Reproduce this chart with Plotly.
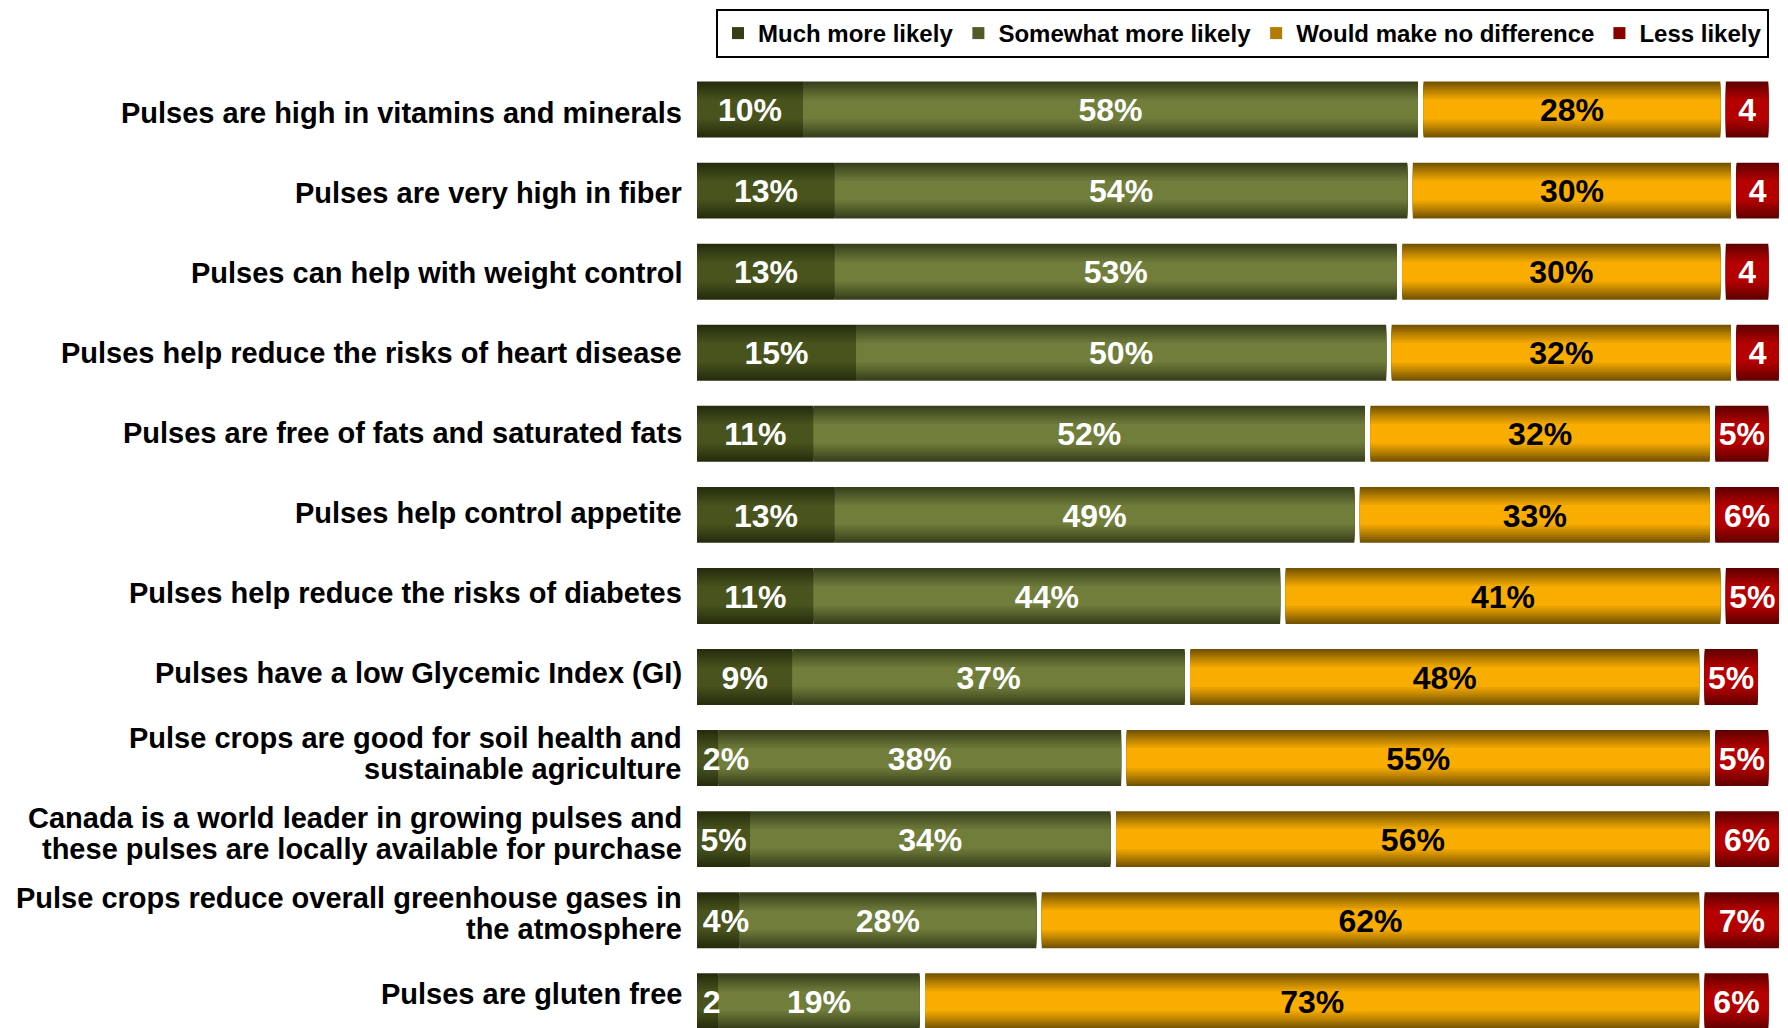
import numpy as np
import plotly.graph_objects as go

# ---------------- data ----------------
categories = [
    "Pulses are high in vitamins and minerals",
    "Pulses are very high in fiber",
    "Pulses can help with weight control",
    "Pulses help reduce the risks of heart disease",
    "Pulses are free of fats and saturated fats",
    "Pulses help control appetite",
    "Pulses help reduce the risks of diabetes",
    "Pulses have a low Glycemic Index (GI)",
    "Pulse crops are good for soil health and<br>sustainable agriculture",
    "Canada is a world leader in growing pulses and<br>these pulses are locally available for purchase",
    "Pulse crops reduce overall greenhouse gases in<br>the atmosphere",
    "Pulses are gluten free",
]
series_names = ["Much more likely", "Somewhat more likely",
                "Would make no difference", "Less likely"]
much_more = [10, 13, 13, 15, 11, 13, 11, 9, 2, 5, 4, 2]
somewhat_more = [58, 54, 53, 50, 52, 49, 44, 37, 38, 34, 28, 19]
no_difference = [28, 30, 30, 32, 32, 33, 41, 48, 55, 56, 62, 73]
less_likely = [4, 4, 4, 4, 5, 6, 5, 5, 5, 6, 7, 6]
much_labels = ["10%", "13%", "13%", "15%", "11%", "13%", "11%", "9%", "2%", "5%", "4%", "2"]
somewhat_labels = [f"{v}%" for v in somewhat_more]
nodiff_labels = [f"{v}%" for v in no_difference]
less_labels = ["4", "4", "4", "4", "5%", "6%", "5%", "5%", "5%", "6%", "7%", "6%"]

# ---------------- style ----------------
FONT = "Arial, Liberation Sans, sans-serif"
GAP = 0.52          # white gap before the 3rd and 4th segments (in axis units)
BARW = 0.69
LABEL_SIZE = 29
LINE_STEP = 31      # px between lines of two-line category labels
TEXT_DROP = 0.045   # value labels sit slightly lower than the text-box centre
edge_colors = [(36, 42, 12), (52, 59, 26), (110, 78, 0), (92, 0, 0)]
center_colors = [(72, 83, 29), (112, 125, 59), (249, 173, 0), (181, 0, 0)]
text_colors = ["white", "white", "black", "white"]

vals = [np.array(v, float) for v in (much_more, somewhat_more, no_difference, less_likely)]
bases = [
    np.zeros(len(categories)),
    vals[0],
    vals[0] + vals[1] + GAP,
    vals[0] + vals[1] + vals[2] + 2 * GAP,
]
labels = [much_labels, somewhat_labels, nodiff_labels, less_labels]

layers = [1.0, 0.93, 0.86, 0.79, 0.72, 0.65, 0.58, 0.51, 0.44, 0.36]


def shade(c0, c1, t):
    # t: normalized distance from bar centre (0 centre, 1 edge)
    f = 0.0 if t <= 0.3 else ((t - 0.3) / 0.7) ** 1.1
    return "rgb({},{},{})".format(*[int(round(a + (b - a) * f)) for a, b in zip(c1, c0)])


fig = go.Figure()
for si in range(4):
    for li, s in enumerate(layers):
        nxt = layers[li + 1] if li + 1 < len(layers) else 0.0
        col = shade(edge_colors[si], center_colors[si], (s + nxt) / 2)
        fig.add_trace(go.Bar(
            y=categories, x=vals[si], base=bases[si], orientation="h",
            width=BARW * s,
            marker=dict(color=col, line=dict(width=0)),
            name=series_names[si], legendgroup=series_names[si],
            showlegend=(li == 4), hoverinfo="skip",
        ))

# value labels
for si in range(4):
    xs, pos = [], []
    for i in range(len(categories)):
        if si == 0 and vals[si][i] < 5:
            xs.append(bases[si][i] + 0.55)
            pos.append("middle right")
        else:
            xs.append(bases[si][i] + vals[si][i] / 2)
            pos.append("middle center")
    fig.add_trace(go.Scatter(
        y=categories, x=xs, mode="text", text=labels[si], textposition=pos,
        yaxis="y3",
        textfont=dict(family=FONT, size=32, color=text_colors[si], weight="bold"),
        showlegend=False, hoverinfo="skip", cliponaxis=False,
    ))

# category labels (on a separate label axis, one annotation per text line)
annotations = []
for i, cat in enumerate(categories):
    lines = cat.split("<br>")
    n = len(lines)
    for k, line in enumerate(lines):
        annotations.append(dict(
            xref="paper", yref="y2", x=0, y=i, text=line, showarrow=False,
            xanchor="right", yanchor="middle", xshift=-13,
            yshift=((n - 1) / 2 - k) * LINE_STEP,
            font=dict(family=FONT, size=LABEL_SIZE, color="black", weight="bold"),
        ))

# the page body adds an 8px margin, so the figure is 8px smaller than the window
fig.update_layout(
    width=1780, height=1020,
    margin=dict(l=689, r=0, t=61, b=0, autoexpand=False),
    barmode="overlay",
    paper_bgcolor="white", plot_bgcolor="white",
    font=dict(family=FONT, color="black"),
    showlegend=True,
    legend=dict(
        orientation="h", xref="paper", yref="paper",
        x=0.5, xanchor="center", y=1 + 60 / 959, yanchor="top",
        bgcolor="white", bordercolor="black", borderwidth=2,
        font=dict(family=FONT, size=24, color="black", weight="bold"),
        traceorder="normal", tracegroupgap=0,
    ),
    xaxis=dict(range=[0, 102.9], visible=False, fixedrange=True),
    yaxis=dict(
        type="category", categoryorder="array", categoryarray=categories,
        range=[11.33, -0.5], showgrid=False, zeroline=False, showline=False,
        ticks="", showticklabels=False, automargin=False,
    ),
    yaxis2=dict(
        overlaying="y", range=[11.43, -0.548], visible=False,
        showgrid=False, zeroline=False,
    ),
    yaxis3=dict(
        overlaying="y", type="category", categoryorder="array",
        categoryarray=categories,
        range=[11.33 - TEXT_DROP, -0.5 - TEXT_DROP], visible=False,
        showgrid=False, zeroline=False,
    ),
    annotations=annotations,
)

fig.write_html("out.html")
